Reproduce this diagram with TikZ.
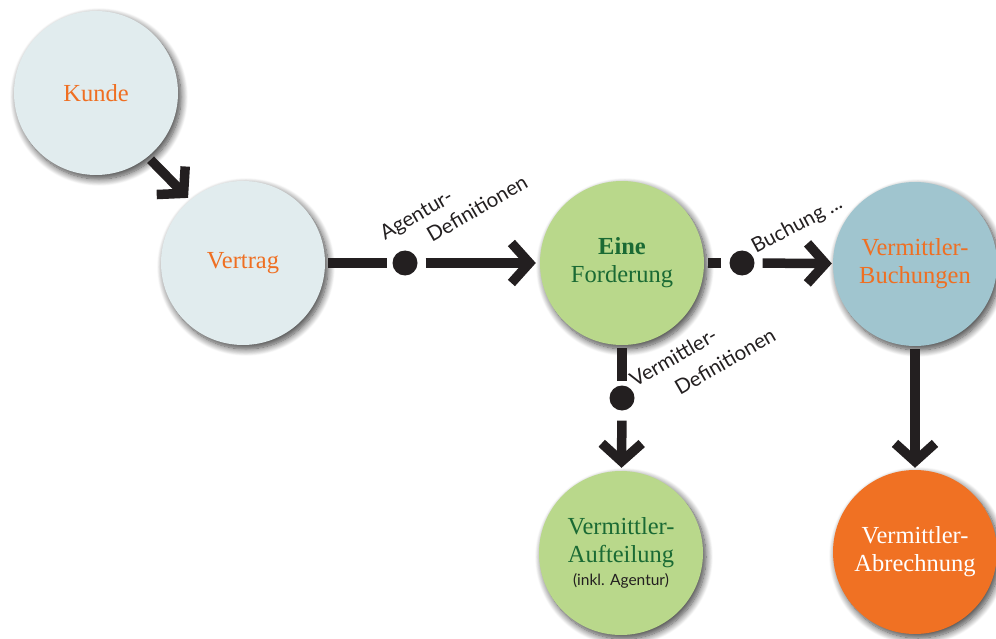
\documentclass[tikz,border=0pt]{standalone}
\usepackage{fontspec}
\setmainfont{Liberation Serif}
\newfontfamily\labelfont{Lato}
\usetikzlibrary{arrows.meta,shadows.blur}
\definecolor{paleblue}{HTML}{E1ECEE}
\definecolor{leaf}{HTML}{B9D88B}
\definecolor{steel}{HTML}{A0C5CF}
\definecolor{tangerine}{HTML}{F07123}
\definecolor{orangetext}{HTML}{EF6F22}
\definecolor{greentext}{HTML}{1A6A34}
\definecolor{ink}{HTML}{231F20}
\tikzset{
  bubble/.style={circle, minimum size=164pt, inner sep=0pt, align=center,
    font=\fontsize{24.5}{28}\selectfont,
    blur shadow={shadow xshift=3pt, shadow yshift=-4pt, shadow blur radius=7pt, shadow blur steps=12, shadow opacity=75}},
  dot/.style={circle, fill=ink, minimum size=25pt, inner sep=0pt},
  conn/.style={draw=ink, line width=9.5pt},
  arr/.style={conn, -{Straight Barb[length=18pt,width=40pt,sharp]}},
  lbl/.style={font=\labelfont\fontsize{20.5}{22}\selectfont, text=ink, anchor=base west, rotate=30, inner sep=0pt},
}
\begin{document}
\begin{tikzpicture}[x=1pt,y=-1pt]
\useasboundingbox (0,0) rectangle (996,639);
% circles
\node[bubble, fill=paleblue, text=orangetext] (kunde) at (96,93) {Kunde};
\node[bubble, fill=paleblue, text=orangetext] (vertrag) at (243,263) {Vertrag};
\node[bubble, fill=leaf, text=greentext] (ford) at (622,263) {\textbf{Eine}\\Forderung};
\node[bubble, fill=steel, text=orangetext] (buch) at (915,264) {Vermittler-\\Buchungen};
\node[bubble, fill=leaf, text=greentext] (auft) at (621,553) {Vermittler-\\Aufteilung\\[-5pt]{\color{ink}\labelfont\fontsize{15.5}{17}\selectfont(inkl. Agentur)}};
\node[bubble, fill=tangerine, text=white] (abr) at (915,552) {Vermittler-\\Abrechnung};
% dots
\node[dot] (d1) at (405,263) {};
\node[dot] (d2) at (742,263) {};
\node[dot] (d3) at (622,398) {};
% connectors
\draw[arr, shorten <=4pt, shorten >=3pt] (kunde.-51) -- (vertrag.130.5);
\draw[conn, shorten <=3pt, shorten >=5pt] (vertrag) -- (d1);
\draw[arr, shorten <=8pt, shorten >=4pt] (d1) -- (ford);
\draw[conn, shorten <=4pt, shorten >=8pt] (ford) -- (d2);
\draw[arr, shorten <=8pt, shorten >=1pt] (d2) -- (buch);
\draw[conn, shorten <=3pt, shorten >=4pt] (ford) -- (d3);
\draw[arr, shorten <=10pt, shorten >=3pt] (d3) -- (auft);
\draw[arr, shorten <=3pt, shorten >=2pt] (buch) -- (abr);
% labels
\node[lbl] (l1a) at (385,241) {Agentur-};
\node[lbl] (l1b) at (432,243) {Definitionen};
\node[lbl, rotate=-2] (l2) at (756,254) {Buchung ...};
\node[lbl] (l3a) at (635,388) {Vermittler-};
\node[lbl] (l3b) at (680,396) {Definitionen};
\end{tikzpicture}
\end{document}
